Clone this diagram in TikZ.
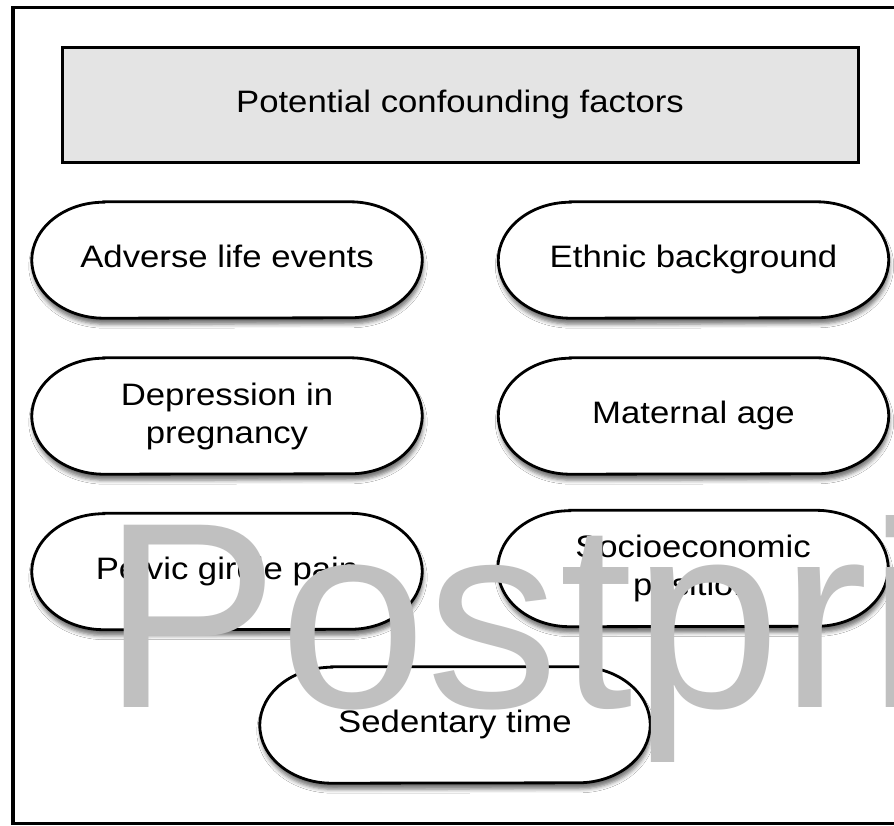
\documentclass[tikz,border=0pt]{standalone}
\usepackage{fontspec}
\setmainfont{Liberation Sans}[FakeStretch=1.12]
\newfontfamily\wmfont{Liberation Sans}
\usetikzlibrary{shadows.blur,backgrounds}
\definecolor{titlegray}{HTML}{E4E4E4}
\definecolor{wmgray}{HTML}{C0C0C0}
\tikzset{
  pilltext/.style={minimum width=390pt, minimum height=116pt, inner sep=0pt,
    align=center, font=\fontsize{31}{38}\selectfont},
  oneline/.style={text height=23pt, text depth=8pt},
  pilloutline/.style={draw=black, line width=2.8pt, fill=white,
    blur shadow={shadow xshift=1pt, shadow yshift=-6pt, shadow blur radius=4pt, shadow opacity=55}},
  titlebox/.style={draw=black, line width=3pt, fill=titlegray, minimum width=796pt,
    minimum height=115pt, inner sep=0pt, text height=23pt, text depth=8pt,
    font=\fontsize{31}{38}\selectfont},
  framebox/.style={draw=black, line width=3.5pt},
  watermark/.style={anchor=base west, inner sep=0pt, text=wmgray,
    font=\wmfont\fontsize{265}{265}\selectfont},
}
\newcommand\pillpath[1]{%
  \draw[pilloutline] ([xshift=72pt]#1.north west) -- ([xshift=-72pt]#1.north east)
    arc[start angle=90, end angle=-90, x radius=72pt, y radius=58pt]
    -- ([xshift=72pt]#1.south west)
    arc[start angle=270, end angle=90, x radius=72pt, y radius=58pt] -- cycle;}
\begin{document}
\begin{tikzpicture}[x=1pt,y=-1pt]
\useasboundingbox (0,0) rectangle (894,825);
\begin{scope}
\clip (0,0) rectangle (894,825);
\draw[framebox] (910,7.5) -- (13,7.5) -- (13,823.5) -- (910,823.5);

\node[titlebox] (title) at (460,104.5) {Potential confounding factors};

\node[pilltext, oneline] (ale) at (227,260) {Adverse life events};
\node[pilltext, oneline] (eth) at (693.5,260) {Ethnic background};
\node[pilltext] (dep) at (227,416) {Depression in\\pregnancy};
\node[pilltext, oneline] (mat) at (693.5,416) {Maternal age};
\node[pilltext, oneline] (pel) at (227,571.5) {Pelvic girdle pain};
\node[pilltext] (soc) at (693,568.5) {Socioeconomic\\position};
\node[pilltext, oneline] (sed) at (455,725) {Sedentary time};

\begin{pgfonlayer}{background}
\fill[white] (0,0) rectangle (894,825);
\pillpath{ale}
\pillpath{eth}
\pillpath{dep}
\pillpath{mat}
\pillpath{pel}
\pillpath{soc}
\pillpath{sed}
\end{pgfonlayer}

\node[watermark] (wm) at (102.6,707) {Postprint};
\end{scope}
\end{tikzpicture}
\end{document}
